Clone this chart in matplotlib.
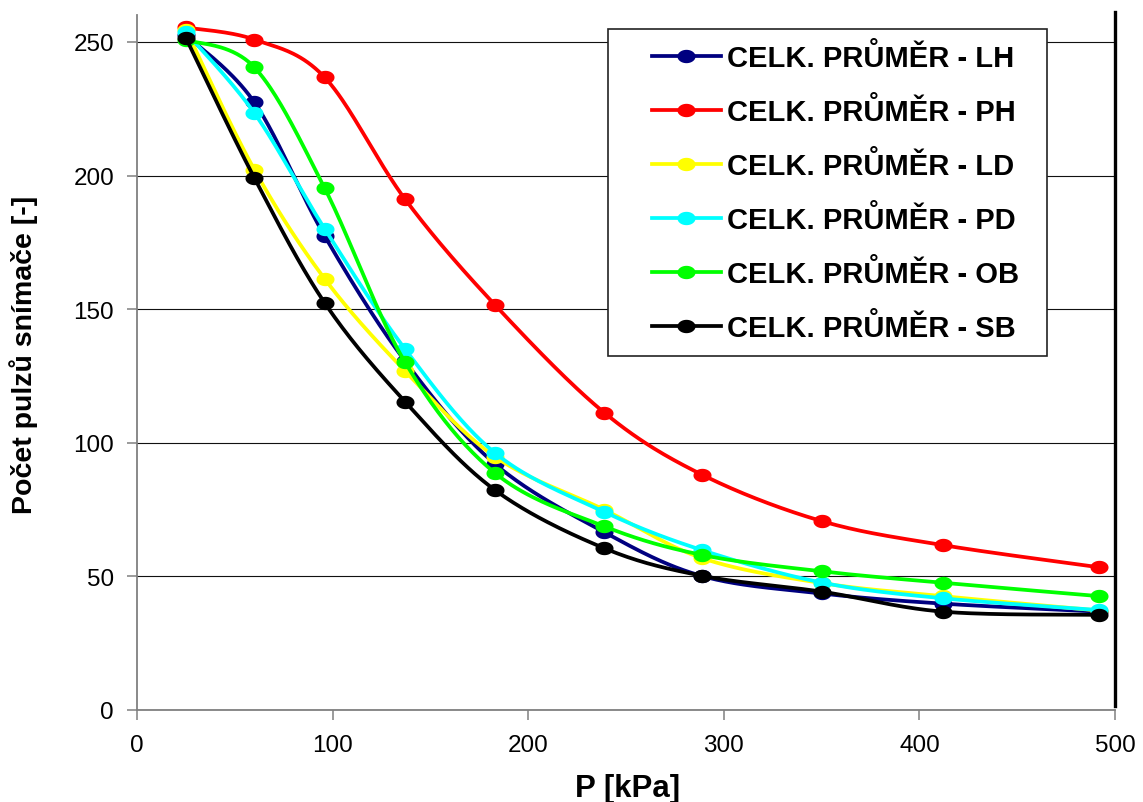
import numpy as np
import matplotlib
matplotlib.use("Agg")
import matplotlib.pyplot as plt
from matplotlib.path import Path
from matplotlib.lines import Line2D
from matplotlib.patches import Rectangle

plt.rcParams['font.family'] = ['Liberation Sans', 'DejaVu Sans']

# Pressure steps [kPa]
pressure = [25, 60, 96, 137, 183, 239, 289, 350, 412, 492]

# Average sensor pulse counts for each position
lh = [252.6, 227.4, 177.3, 130.6, 92.1, 66.5, 50.1, 43.6, 39.8, 36.8]
ph = [255.4, 250.9, 236.7, 191.2, 151.6, 111.2, 88.0, 70.7, 61.7, 53.4]
ld = [254.6, 202.2, 161.3, 126.9, 94.8, 74.9, 56.8, 47.5, 42.6, 37.2]
pd_ = [253.6, 223.4, 180.0, 135.1, 96.2, 74.1, 59.8, 47.7, 41.8, 37.4]
ob = [250.8, 240.5, 195.2, 130.2, 88.7, 68.7, 58.0, 51.9, 47.6, 42.6]
sb = [251.5, 199.1, 152.3, 115.4, 82.3, 60.5, 50.2, 44.3, 36.8, 35.6]

labels = ['CELK. PRŮMĚR - LH', 'CELK. PRŮMĚR - PH', 'CELK. PRŮMĚR - LD',
          'CELK. PRŮMĚR - PD', 'CELK. PRŮMĚR - OB', 'CELK. PRŮMĚR - SB']
colors = ['#000080', '#FF0000', '#FFFF00', '#00FFFF', '#00FF00', '#000000']
series = [lh, ph, ld, pd_, ob, sb]

x_ticks = [0, 100, 200, 300, 400, 500]
y_ticks = [0, 50, 100, 150, 200, 250]


def smooth(xs, ys, n=40):
    """Bezier smoothing through every point (spreadsheet-style smoothed line)."""
    pts = np.column_stack([xs, ys]).astype(float)
    ext = np.vstack([pts[0], pts, pts[-1]])
    out = []
    t = np.linspace(0, 1, n)[:, None]
    for i in range(len(pts) - 1):
        p0, p1, p2, p3 = ext[i], ext[i + 1], ext[i + 2], ext[i + 3]
        c1 = p1 + (p2 - p0) / 6.0
        c2 = p2 - (p3 - p1) / 6.0
        seg = ((1 - t) ** 3) * p1 + 3 * ((1 - t) ** 2) * t * c1 \
            + 3 * (1 - t) * t ** 2 * c2 + t ** 3 * p2
        out.append(seg if i == 0 else seg[1:])
    return np.vstack(out)


# slightly flattened round marker
theta = np.linspace(0, 2 * np.pi, 60)
ellipse = Path(np.column_stack([np.cos(theta), 0.74 * np.sin(theta)]), closed=True)

fig = plt.figure(figsize=(11.43, 8.03), dpi=100)
ax = fig.add_axes([137 / 1143, 92 / 803, 978 / 1143, 698 / 803])

lw = 2.7
ms = 13
for k, (ys, c) in enumerate(zip(series, colors)):
    curve = smooth(pressure, ys)
    ax.plot(curve[:, 0], curve[:, 1], color=c, lw=lw, zorder=3 + 2 * k,
            solid_capstyle='round', solid_joinstyle='round')
    ax.plot(pressure, ys, ls='none', marker=ellipse, ms=ms, color=c,
            markeredgewidth=0, zorder=4 + 2 * k)

ax.set_xlim(0, 500)
ax.set_ylim(0, 261.2)
ax.set_xticks(x_ticks)
ax.set_yticks(y_ticks)
ax.yaxis.grid(True, color='#111111', lw=0.8)
ax.set_axisbelow(True)

ax.spines['top'].set_visible(False)
for s in ('left', 'bottom'):
    ax.spines[s].set_color('#808080')
    ax.spines[s].set_linewidth(1.3)
ax.spines['left'].set_bounds(0, 260)
ax.spines['right'].set_color('black')
ax.spines['right'].set_linewidth(2.4)
ax.spines['right'].set_bounds(1.4, 261.2)

ax.tick_params(axis='both', direction='out', length=7, width=1.1,
               color='#808080', labelsize=17.5, labelcolor='black')
ax.tick_params(axis='y', pad=9.5, right=False)
ax.tick_params(axis='x', pad=10)

ax.set_xlabel('P [kPa]', fontsize=22.5, fontweight='bold', va='center')
ax.xaxis.set_label_coords(0.502, (711 - 789) / 698)
ax.set_ylabel('Počet pulzů snímače [-]', fontsize=20.5, fontweight='bold',
              va='center')
ax.yaxis.set_label_coords((24 - 137) / 978, (711 - 355) / 698)

# legend box
box = Rectangle((0.4816, 0.5072), 0.9305 - 0.4816, 0.9756 - 0.5072,
                transform=ax.transAxes, facecolor='white', edgecolor='#222222',
                lw=1.2, zorder=20)
ax.add_patch(box)

handles = [Line2D([], [], color=c, lw=lw, marker=ellipse, ms=ms,
                  markeredgewidth=0) for c in colors]
leg = ax.legend(handles, labels, loc='upper left',
                bbox_to_anchor=((652 - 137) / 978, (711 - 44) / 698),
                frameon=False, borderpad=0, borderaxespad=0,
                handlelength=2.35, handletextpad=0.22, labelspacing=0.86,
                prop={'weight': 'bold', 'size': 21})
leg.set_zorder(21)

fig.savefig('out.png', dpi=100)
